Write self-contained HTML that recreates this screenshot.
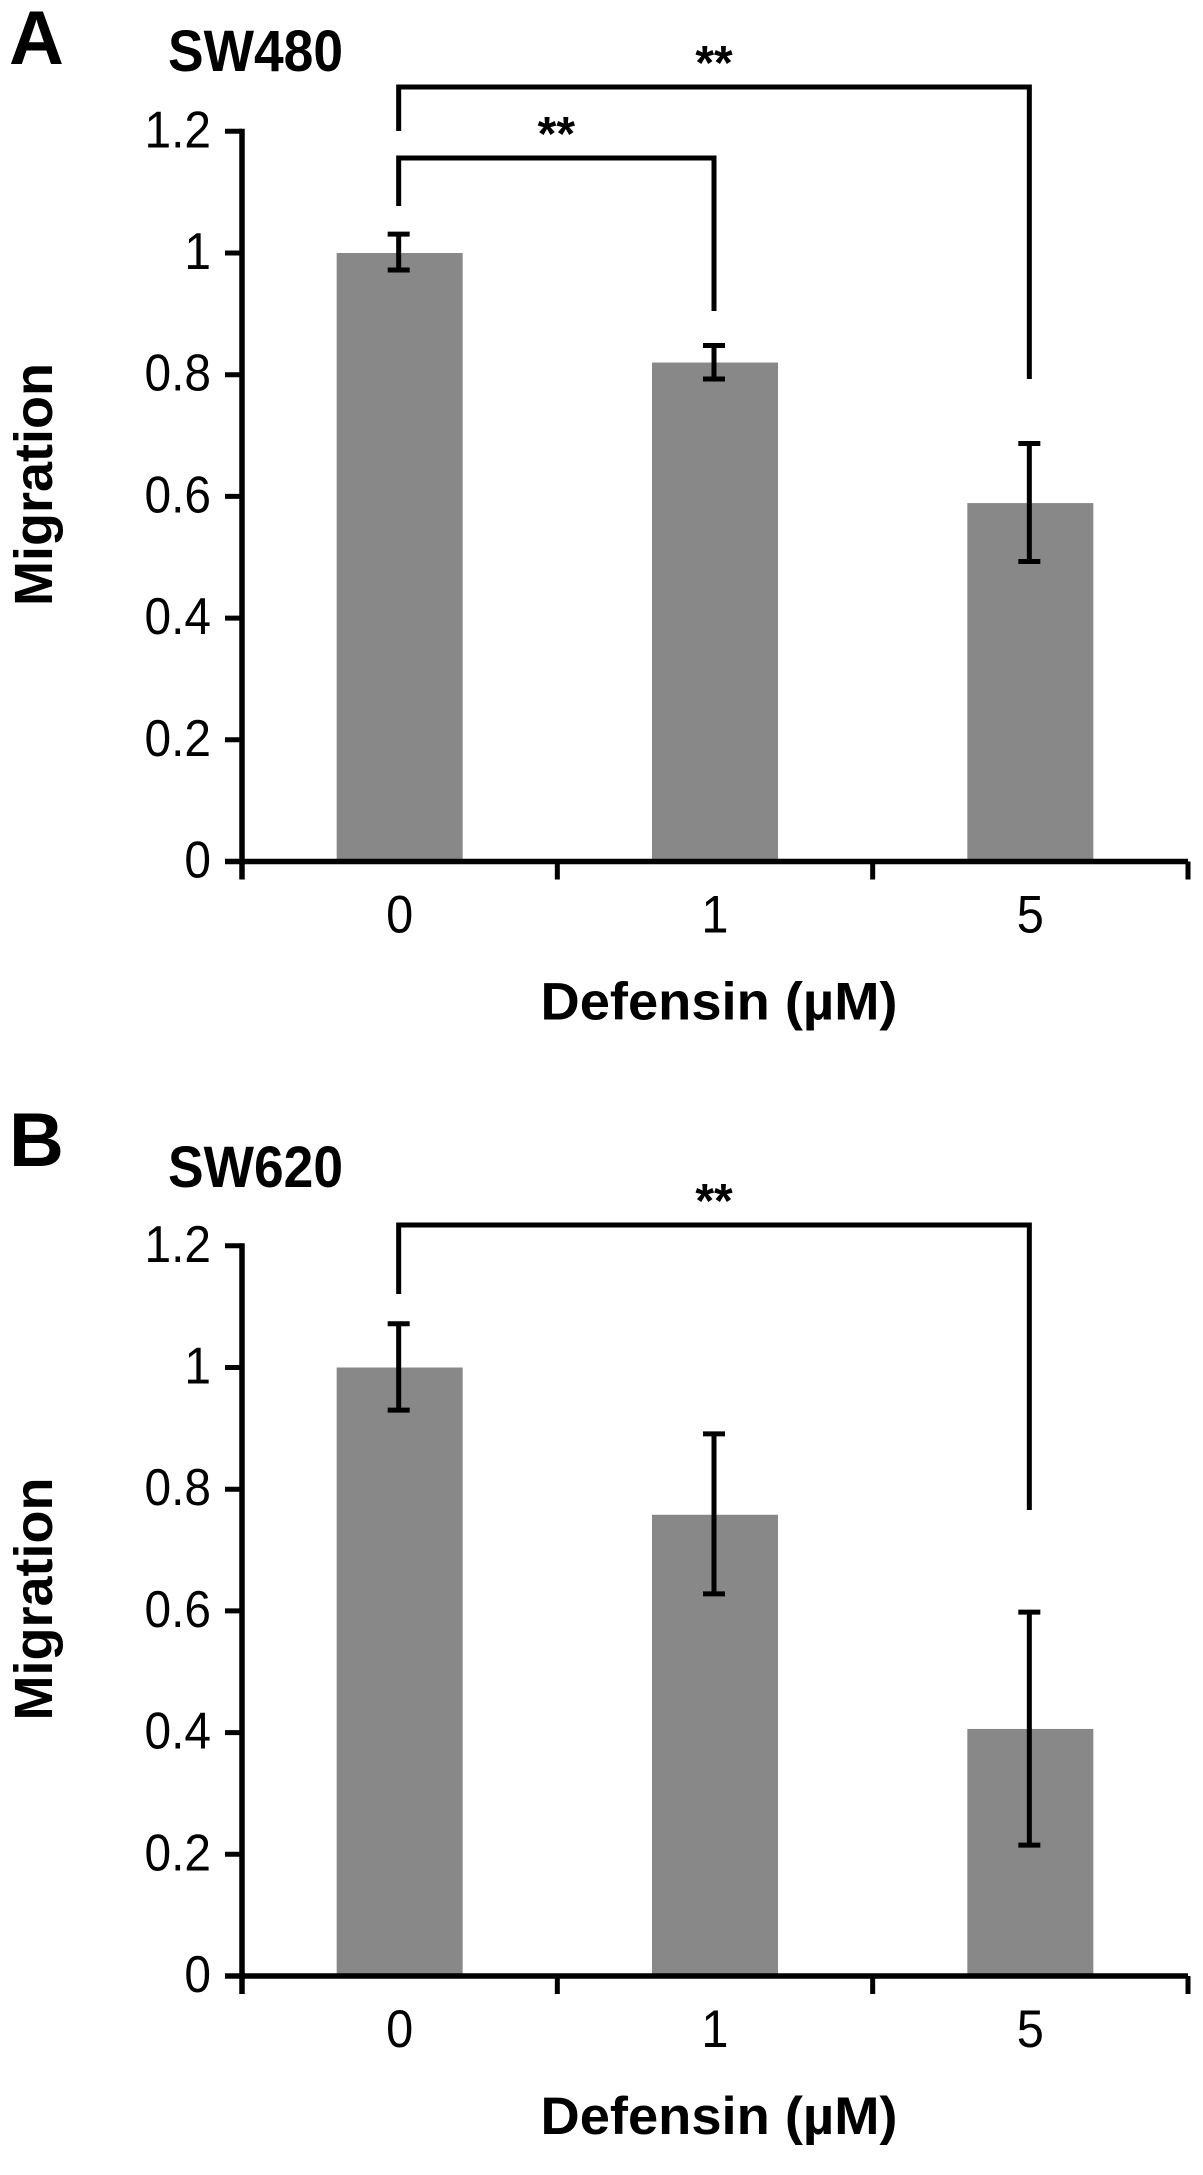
<!DOCTYPE html>
<html><head><meta charset="utf-8"><style>
html,body{margin:0;padding:0;background:#fff;}
svg{display:block;}
text{font-family:"Liberation Sans",Arial,sans-serif;fill:#000;}
</style></head><body>
<svg id="fig" width="1203" height="2175" viewBox="0 0 1203 2175" xmlns="http://www.w3.org/2000/svg"></svg>
<script>
// Data
const categories = ["0", "1", "5"];
const yTicks = [0, 0.2, 0.4, 0.6, 0.8, 1, 1.2];
const yTickLabels = ["0", "0.2", "0.4", "0.6", "0.8", "1", "1.2"];
const sw480Values = [1.0, 0.82, 0.589];
const sw480ErrHigh = [1.031, 0.848, 0.687];
const sw480ErrLow = [0.972, 0.793, 0.493];
const sw620Values = [1.0, 0.758, 0.406];
const sw620ErrHigh = [1.072, 0.891, 0.598];
const sw620ErrLow = [0.93, 0.628, 0.215];

const NS = "http://www.w3.org/2000/svg";
const svg = document.getElementById("fig");
const SX = 0.92;
function mk(tag, attrs, parent) {
  const e = document.createElementNS(NS, tag);
  for (const k in attrs) e.setAttribute(k, attrs[k]);
  (parent || svg).appendChild(e);
  return e;
}

function panel(o) {
  const g = mk("g", {});
  
  
  const x0 = 242, x1 = 1188, zeroY = o.zeroY, perUnit = 608.5;
  const y = v => zeroY - v * perUnit;
  const bandW = (x1 - x0) / categories.length;
  const xc = i => x0 + bandW * (i + 0.5);

  o.values.forEach((v, i) => {
    const r = mk("rect", {x: xc(i) - 63, y: y(v), width: 126, height: zeroY - y(v), fill: "#888888"}, g);
    
    
  });
  o.values.forEach((v, i) => {
    const eg = mk("g", {stroke: "#000", "stroke-width": 5}, g);
    
    
    const cx = xc(i) - 1;
    mk("line", {x1: cx, x2: cx, y1: y(o.hi[i]), y2: y(o.lo[i])}, eg);
    mk("line", {x1: cx - 11, x2: cx + 11, y1: y(o.hi[i]), y2: y(o.hi[i])}, eg);
    mk("line", {x1: cx - 11, x2: cx + 11, y1: y(o.lo[i]), y2: y(o.lo[i])}, eg);
  });
  const ya = mk("line", {x1: x0, x2: x0, y1: y(1.2) - 2.5, y2: zeroY + 18, stroke: "#000", "stroke-width": 5.5}, g);
  
  
  const xa = mk("line", {x1: 225, x2: x1, y1: zeroY, y2: zeroY, stroke: "#000", "stroke-width": 5.5}, g);
  
  
  yTicks.forEach((t, i) => {
    if (t > 0) mk("line", {x1: 225, x2: x0, y1: y(t), y2: y(t), stroke: "#000", "stroke-width": 5}, g);
    const tx = mk("text", {x: 211 / SX, y: y(t) + 16, "text-anchor": "end", "font-size": 52, transform: "scale(" + SX + ",1)"}, g);
    tx.textContent = yTickLabels[i];
    
    
  });
  for (let i = 1; i <= categories.length; i++) {
    mk("line", {x1: x0 + bandW * i, x2: x0 + bandW * i, y1: zeroY, y2: zeroY + 18, stroke: "#000", "stroke-width": 5}, g);
  }
  categories.forEach((c, i) => {
    const tx = mk("text", {x: xc(i) / SX, y: zeroY + 71, "text-anchor": "middle", "font-size": 53, transform: "scale(" + SX + ",1)"}, g);
    tx.textContent = c;
    
    
  });
  const xt = mk("text", {x: 719, y: zeroY + 158, "text-anchor": "middle", "font-size": 53, "font-weight": "bold", textLength: 357, lengthAdjust: "spacingAndGlyphs"}, g);
  xt.textContent = "Defensin (µM)";
  
  
  const ytl = mk("text", {x: 0, y: 0, "text-anchor": "middle", "font-size": 54, "font-weight": "bold", transform: "translate(52," + (zeroY - 377) + ") rotate(-90)", textLength: 243, lengthAdjust: "spacingAndGlyphs"}, g);
  ytl.textContent = "Migration";
  
  
  const pl = mk("text", {x: 9, y: o.letterY, "font-size": 76, "font-weight": "bold"}, g);
  pl.textContent = o.letter;
  
  
  const ct = mk("text", {x: 168, y: o.titleY, "font-size": 58, "font-weight": "bold", textLength: 175, lengthAdjust: "spacingAndGlyphs"}, g);
  ct.textContent = o.title;
  
  
  o.brackets.forEach(b => {
    const bg = mk("g", {}, g);
    
    
    const a = xc(b.from) - 1, c = xc(b.to) - 1;
    mk("polyline", {points: a + "," + b.leftY + " " + a + "," + b.top + " " + c + "," + b.top + " " + c + "," + b.rightY, fill: "none", stroke: "#000", "stroke-width": 5}, bg);
    const s = mk("text", {x: (a + c) / 2, y: b.top - 8, "text-anchor": "middle", "font-size": 48, "font-weight": "bold"}, bg);
    s.textContent = "**";
  });
}

panel({name: "panel-a-sw480", zeroY: 861.5, values: sw480Values, hi: sw480ErrHigh, lo: sw480ErrLow,
  letter: "A", letterY: 64, title: "SW480", titleY: 71,
  brackets: [
    {from: 0, to: 2, top: 87, leftY: 131, rightY: 379},
    {from: 0, to: 1, top: 158, leftY: 206, rightY: 311}
  ]});
panel({name: "panel-b-sw620", zeroY: 1976, values: sw620Values, hi: sw620ErrHigh, lo: sw620ErrLow,
  letter: "B", letterY: 1166, title: "SW620", titleY: 1187,
  brackets: [
    {from: 0, to: 2, top: 1225, leftY: 1294, rightY: 1510}
  ]});
</script>
</body></html>
